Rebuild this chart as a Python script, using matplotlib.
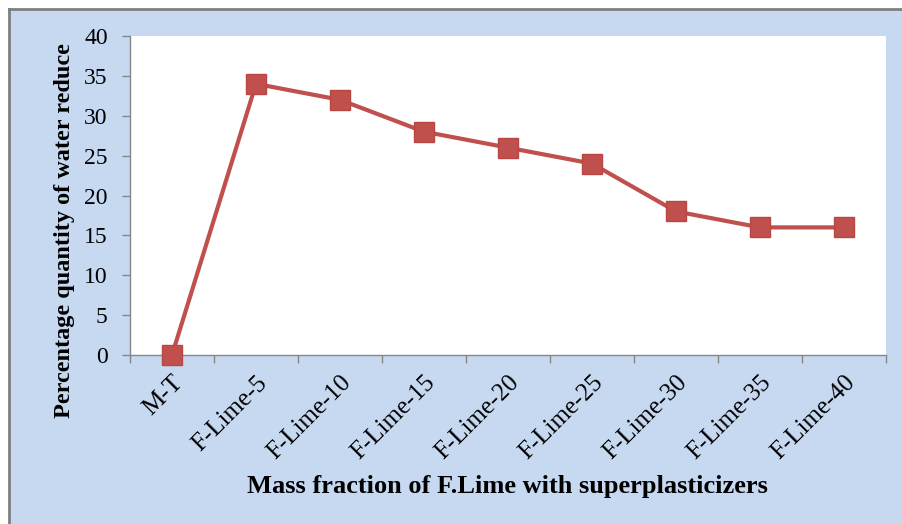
import numpy as np
import matplotlib.pyplot as plt
from matplotlib.patches import Rectangle
from matplotlib.lines import Line2D

# data
categories = ['M-T', 'F-Lime-5', 'F-Lime-10', 'F-Lime-15', 'F-Lime-20',
              'F-Lime-25', 'F-Lime-30', 'F-Lime-35', 'F-Lime-40']
water_reduce = [0, 34, 32, 28, 26, 24, 18, 16, 16]
y_ticks = [0, 5, 10, 15, 20, 25, 30, 35, 40]

plt.rcParams['font.family'] = ['Liberation Serif', 'DejaVu Serif']

W, H = 902, 524
fig = plt.figure(figsize=(W / 100, H / 100), dpi=100)
fig.patch.set_facecolor('white')

# chart area background with grey border on left/top
fig.patches.append(Rectangle((10 / W, 0), 1, 1 - 10 / H, transform=fig.transFigure,
                             facecolor='#C6D9F1', edgecolor='none', zorder=-2))
fig.lines.append(Line2D([9 / W, 9 / W], [0, 1 - 9 / H], transform=fig.transFigure,
                        color='#7F7F7F', lw=2, zorder=-1))
fig.lines.append(Line2D([9 / W, 1], [1 - 9 / H, 1 - 9 / H], transform=fig.transFigure,
                        color='#7F7F7F', lw=2, zorder=-1))

ax = fig.add_axes([130 / W, 1 - 355 / H, (886 - 130) / W, (355 - 36) / H])
ax.set_facecolor('white')

x = np.arange(len(categories))
ax.plot(x, water_reduce, color='#C0504D', lw=3, marker='s', markersize=14,
        markerfacecolor='#C0504D', markeredgecolor='#B84643', clip_on=False, zorder=3)

ax.set_xlim(-0.5, len(categories) - 0.5)
ax.set_ylim(0, 40)
ax.set_yticks(y_ticks)
ax.set_xticks(x)
ax.set_xticklabels(categories, rotation=45, ha='right', rotation_mode='anchor')
ax.set_xticks(np.arange(-0.5, len(categories)), minor=True)
ax.tick_params(axis='x', which='major', length=0, pad=12, labelsize=18)
ax.tick_params(axis='x', which='minor', length=6, color='#868686', width=1)
ax.tick_params(axis='y', length=6, color='#868686', width=1, labelsize=17, pad=10)

for s in ['top', 'right']:
    ax.spines[s].set_visible(False)
for s in ['left', 'bottom']:
    ax.spines[s].set_color('#868686')
    ax.spines[s].set_linewidth(1)

fig.text(65 / W, 1 - 231 / H, 'Percentage quantity of water reduce', rotation=90,
         ha='center', va='center', fontsize=17.5, fontweight='bold')
fig.text(507 / W, 1 - 487 / H, 'Mass fraction of F.Lime with superplasticizers',
         ha='center', va='center', fontsize=19, fontweight='bold')

fig.savefig('out.png', dpi=100)
